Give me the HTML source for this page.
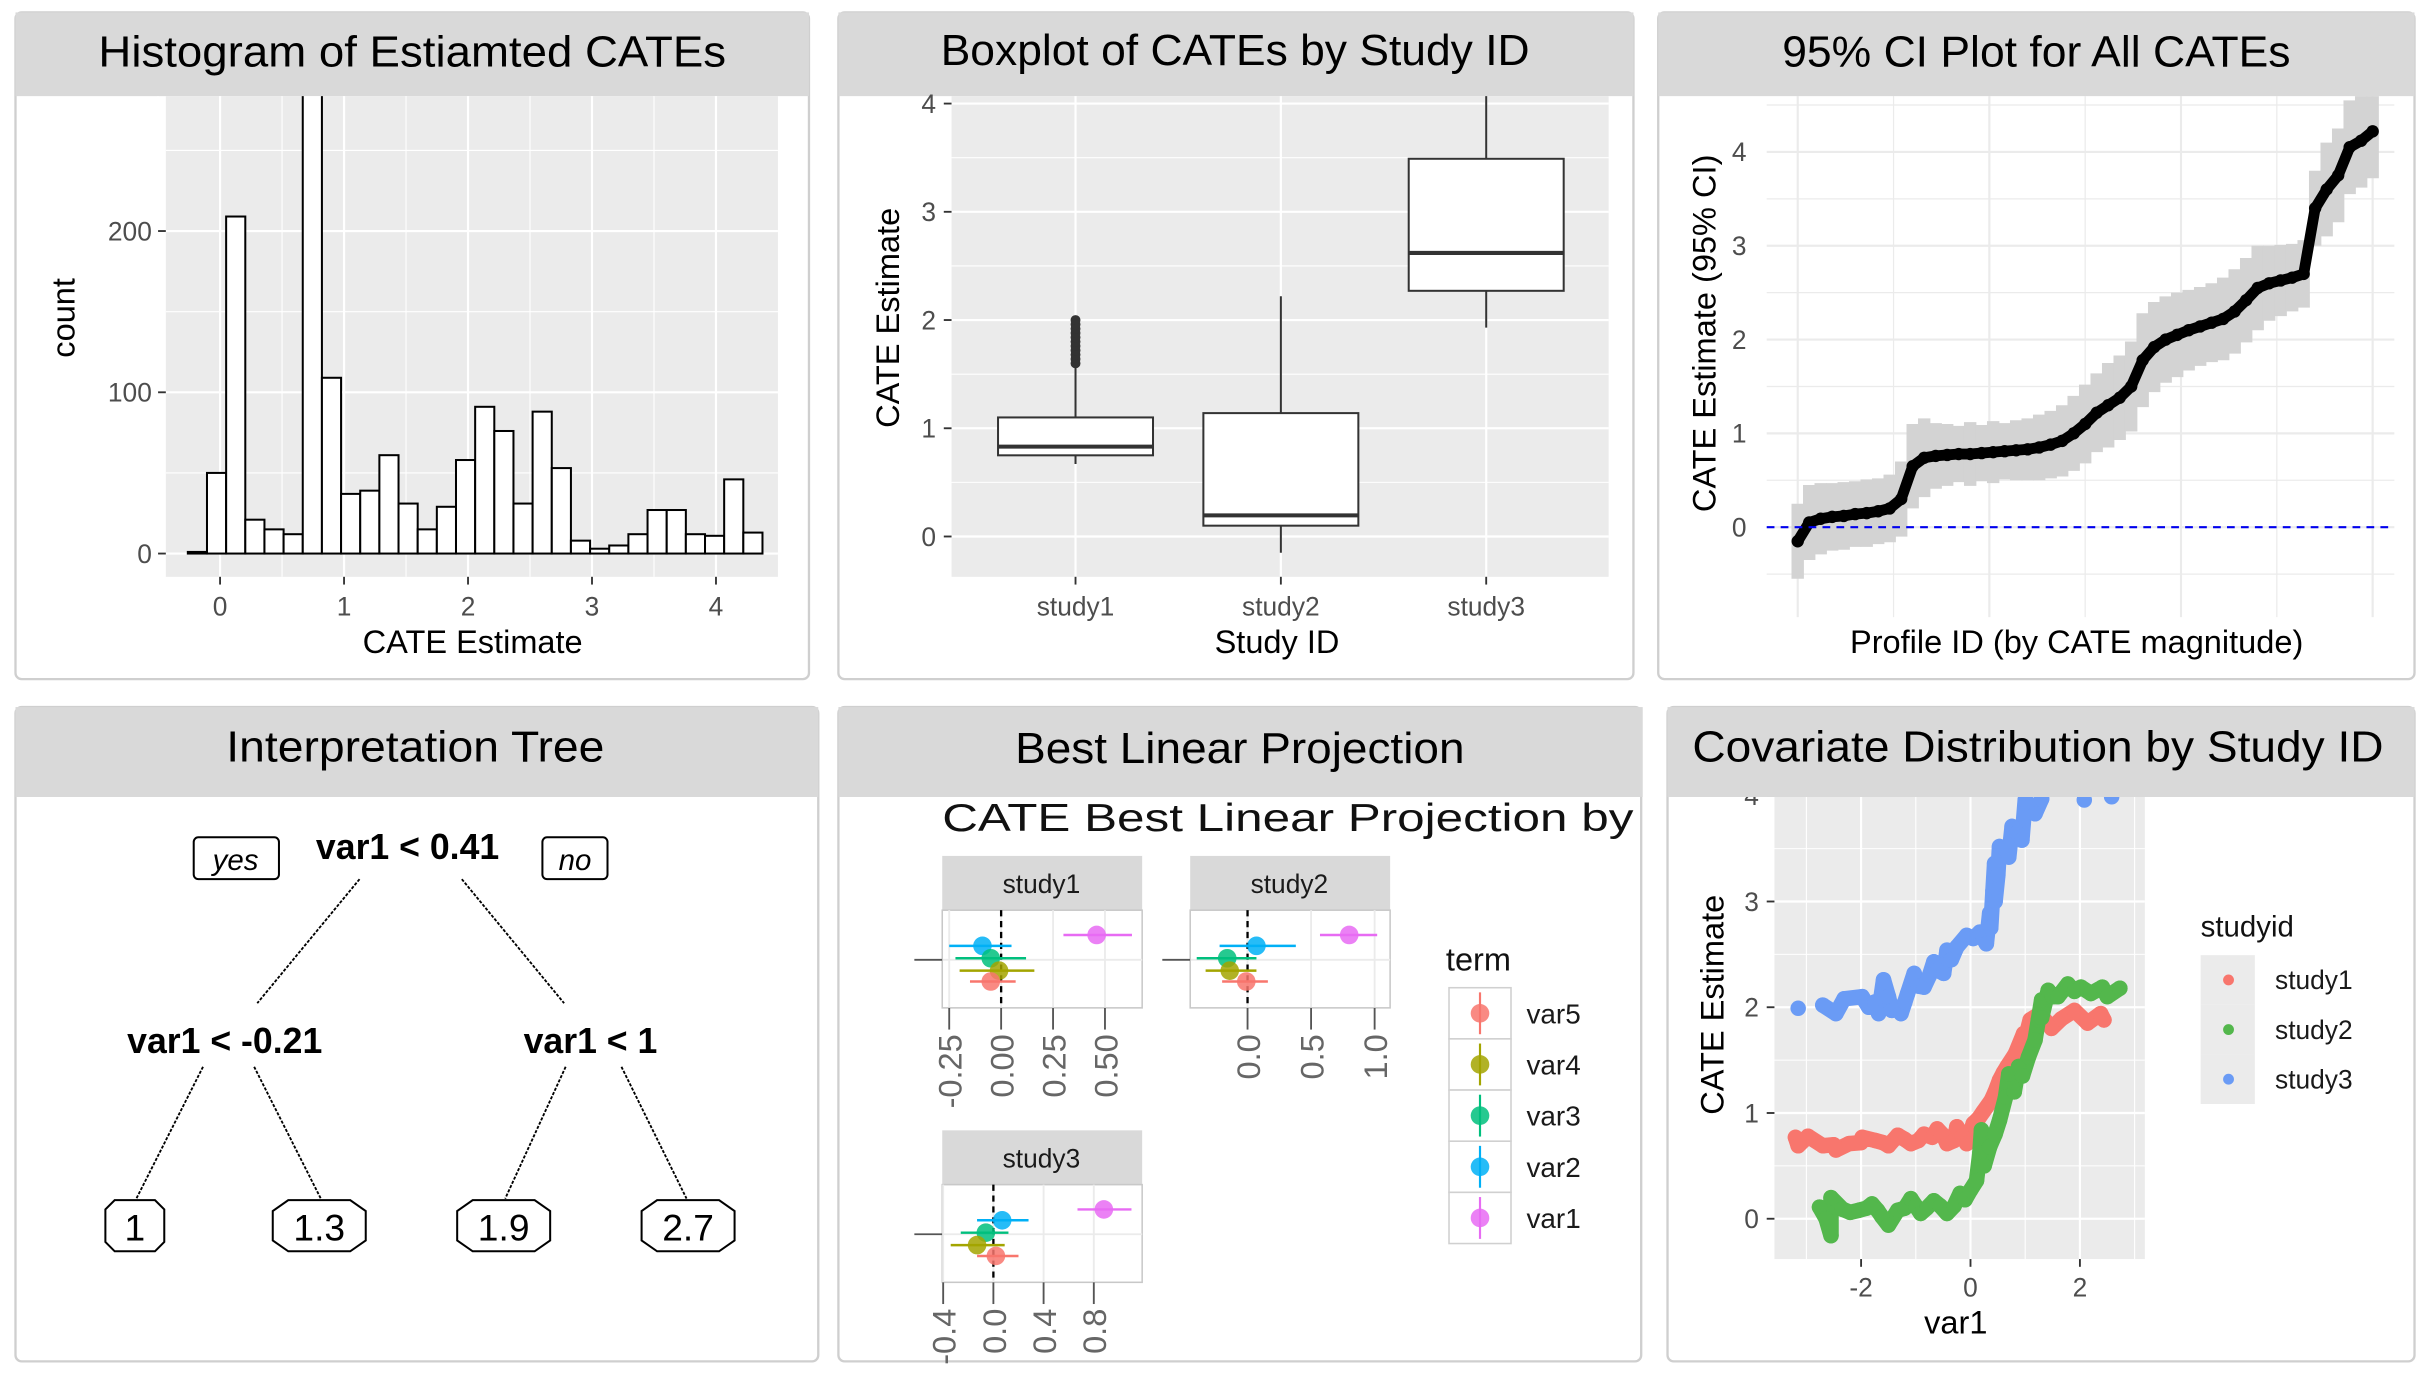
<!DOCTYPE html>
<html><head><meta charset="utf-8"><style>
html,body{margin:0;padding:0;background:#fff;}
svg{display:block;font-family:"Liberation Sans",Arial,sans-serif;}
.tl{font-size:17px;fill:#4d4d4d;}
.at{font-size:21px;fill:#000;}
.ttl{font-size:28px;fill:#000;}
</style></head><body>
<svg id="root" width="2430" height="1380" viewBox="0 0 1568 890" preserveAspectRatio="none" xmlns="http://www.w3.org/2000/svg">
<defs>
<clipPath id="c1"><rect x="107" y="62" width="395" height="310"/></clipPath>
<clipPath id="c2"><rect x="612" y="62" width="424" height="310"/></clipPath>
<clipPath id="c3"><rect x="1140" y="62" width="405" height="336"/></clipPath>
<clipPath id="c6"><rect x="1145" y="514" width="239" height="298"/></clipPath>
<clipPath id="c5"><rect x="541" y="514" width="518" height="364"/></clipPath>
</defs>
<rect width="1568" height="890" fill="#fff"/>
<g>
<rect x="10" y="8" width="512" height="430" rx="4" fill="#fff" stroke="#cfcfcf" stroke-width="1.5"/>
<rect x="10" y="8" width="512" height="54" fill="#d9d9d9"/>
<text x="266" y="43" text-anchor="middle" class="ttl" textLength="405" lengthAdjust="spacingAndGlyphs">Histogram of Estiamted CATEs</text>
<g id="g1"></g>
</g>
<g>
<rect x="541" y="8" width="513" height="430" rx="4" fill="#fff" stroke="#cfcfcf" stroke-width="1.5"/>
<rect x="541" y="8" width="513" height="54" fill="#d9d9d9"/>
<text x="797" y="42" text-anchor="middle" class="ttl" textLength="380" lengthAdjust="spacingAndGlyphs">Boxplot of CATEs by Study ID</text>
<g id="g2"></g>
</g>
<g>
<rect x="1070" y="8" width="488" height="430" rx="4" fill="#fff" stroke="#cfcfcf" stroke-width="1.5"/>
<g id="g3"></g>
<rect x="1070" y="8" width="488" height="54" fill="#d9d9d9"/>
<text x="1314" y="43" text-anchor="middle" class="ttl" textLength="328" lengthAdjust="spacingAndGlyphs">95% CI Plot for All CATEs</text>
</g>
<g>
<rect x="10" y="456" width="518" height="422" rx="4" fill="#fff" stroke="#cfcfcf" stroke-width="1.5"/>
<rect x="10" y="456" width="518" height="58" fill="#d9d9d9"/>
<text x="268" y="491" text-anchor="middle" class="ttl" textLength="244" lengthAdjust="spacingAndGlyphs">Interpretation Tree</text>
<g stroke="#000" stroke-width="1.2" stroke-dasharray="2 1">
<line x1="232" y1="567" x2="166" y2="647"/><line x1="298" y1="567" x2="364" y2="647"/>
<line x1="131" y1="688" x2="88" y2="773"/><line x1="164" y1="688" x2="207" y2="773"/>
<line x1="365" y1="688" x2="326" y2="773"/><line x1="401" y1="688" x2="443" y2="773"/>
</g>
<rect x="125" y="540" width="55" height="27" rx="3" fill="#fff" stroke="#000" stroke-width="1.3"/>
<text x="152" y="561" text-anchor="middle" font-size="19" font-style="italic">yes</text>
<rect x="350" y="540" width="42" height="27" rx="3" fill="#fff" stroke="#000" stroke-width="1.3"/>
<text x="371" y="561" text-anchor="middle" font-size="19" font-style="italic">no</text>
<text x="263" y="554" text-anchor="middle" font-size="23" font-weight="bold">var1 &lt; 0.41</text>
<text x="145" y="679" text-anchor="middle" font-size="23" font-weight="bold">var1 &lt; -0.21</text>
<text x="381" y="679" text-anchor="middle" font-size="23" font-weight="bold">var1 &lt; 1</text>
<g fill="#fff" stroke="#000" stroke-width="1.3">
<path d="M74 774 h26 l6 6 v21 l-6 6 h-26 l-6 -6 v-21 z"/>
<path d="M186 774 h40 l10 7 v19 l-10 7 h-40 l-10 -7 v-19 z"/>
<path d="M305 774 h40 l10 7 v19 l-10 7 h-40 l-10 -7 v-19 z"/>
<path d="M424 774 h40 l10 7 v19 l-10 7 h-40 l-10 -7 v-19 z"/>
</g>
<text x="87" y="800" text-anchor="middle" font-size="24">1</text>
<text x="206" y="800" text-anchor="middle" font-size="24">1.3</text>
<text x="325" y="800" text-anchor="middle" font-size="24">1.9</text>
<text x="444" y="800" text-anchor="middle" font-size="24">2.7</text>
</g>
<g>
<rect x="541" y="456" width="518" height="422" rx="4" fill="#fff" stroke="#cfcfcf" stroke-width="1.5"/>
<rect x="541" y="456" width="519" height="58" fill="#d9d9d9"/>
<text x="800" y="492" text-anchor="middle" class="ttl" textLength="290" lengthAdjust="spacingAndGlyphs">Best Linear Projection</text>
<g clip-path="url(#c5)">
<text x="608" y="536" font-size="25" fill="#111" textLength="446" lengthAdjust="spacingAndGlyphs">CATE Best Linear Projection by</text>
</g>
<g id="g5"></g>
</g>
<g>
<rect x="1076" y="456" width="482" height="422" rx="4" fill="#fff" stroke="#cfcfcf" stroke-width="1.5"/>
<g id="g6"></g>
<rect x="1076" y="456" width="482" height="58" fill="#d9d9d9"/>
<text x="1315" y="491" text-anchor="middle" class="ttl" textLength="446" lengthAdjust="spacingAndGlyphs">Covariate Distribution by Study ID</text>
</g>
</svg>
<script>
// ---------- data ----------
const histBinStart = -0.26;
const histBinWidth = 0.1545;
const histCounts = [1,50,209,21,15,12,320,109,37,39,61,31,15,29,58,91,76,31,88,53,8,3,5,12,27,27,12,11,46,13];
const histXTicks = [0,1,2,3,4];
const histYTicks = [0,100,200];

const boxStudies = ['study1','study2','study3'];
const boxLow = [0.67,-0.15,1.93];
const boxQ1 = [0.75,0.10,2.27];
const boxMed = [0.83,0.195,2.62];
const boxQ3 = [1.10,1.14,3.49];
const boxHigh = [1.57,2.22,4.25];
const boxOutliers1 = [1.6,1.64,1.68,1.72,1.76,1.8,1.84,1.88,1.92,1.96,2.0];
const boxYTicks = [0,1,2,3,4];

const ciEst = [-0.15,0.05,0.09,0.11,0.12,0.14,0.15,0.17,0.2,0.3,0.65,0.74,0.76,0.77,0.78,0.78,0.79,0.8,0.81,0.82,0.83,0.85,0.88,0.92,1.0,1.1,1.22,1.3,1.38,1.5,1.78,1.92,2.0,2.05,2.1,2.14,2.18,2.22,2.3,2.42,2.55,2.6,2.63,2.66,2.7,3.4,3.6,3.75,4.05,4.12,4.22];
const ciHalf = [0.4,0.4,0.38,0.36,0.36,0.35,0.36,0.35,0.36,0.4,0.45,0.42,0.35,0.33,0.3,0.34,0.3,0.33,0.3,0.32,0.33,0.35,0.36,0.38,0.4,0.42,0.42,0.45,0.45,0.48,0.5,0.48,0.46,0.45,0.43,0.42,0.42,0.44,0.45,0.45,0.45,0.4,0.38,0.36,0.36,0.4,0.5,0.5,0.5,0.5,0.5];
const ciYTicks = [0,1,2,3,4];

const blpTerms = ['var1','var2','var3','var4','var5'];
const blpColors = ['#E76BF3','#00B0F6','#00BF7D','#A3A500','#F8766D'];
const blpEst1 = [0.46,-0.09,-0.05,-0.01,-0.05];
const blpLo1 = [0.30,-0.25,-0.22,-0.20,-0.15];
const blpHi1 = [0.63,0.05,0.12,0.16,0.07];
const blpEst2 = [0.80,0.07,-0.16,-0.14,-0.01];
const blpLo2 = [0.57,-0.22,-0.40,-0.33,-0.20];
const blpHi2 = [1.02,0.38,0.07,0.07,0.16];
const blpEst3 = [0.88,0.07,-0.06,-0.13,0.02];
const blpLo3 = [0.67,-0.13,-0.26,-0.34,-0.13];
const blpHi3 = [1.10,0.28,0.12,0.09,0.20];
const blpTicks1 = ['-0.25','0.00','0.25','0.50'];
const blpTicks2 = ['0.0','0.5','1.0'];
const blpTicks3 = ['-0.4','0.0','0.4','0.8'];
const legendTerms = ['var5','var4','var3','var2','var1'];

const s1x = [-3.2,-3.15,-2.97,-2.7,-2.5,-2.46,-2.22,-2.0,-1.98,-1.74,-1.6,-1.5,-1.33,-1.2,-1.09,-0.95,-0.85,-0.7,-0.61,-0.5,-0.43,-0.3,-0.25,-0.15,-0.07,0.05,0.15,0.23,0.38,0.45,0.53,0.6,0.67,0.82,0.97,1.0,1.09,1.27,1.48,1.66,1.9,2.14,2.38,2.44];
const s1y = [0.77,0.69,0.78,0.69,0.7,0.65,0.71,0.72,0.77,0.74,0.72,0.69,0.79,0.75,0.71,0.74,0.8,0.77,0.85,0.79,0.71,0.74,0.87,0.78,0.71,0.9,0.95,1.01,1.12,1.2,1.31,1.38,1.44,1.56,1.75,1.7,1.88,1.94,1.8,1.89,1.97,1.85,1.94,1.88];
const s2x = [-2.76,-2.64,-2.55,-2.55,-2.34,-2.2,-2.04,-1.9,-1.8,-1.7,-1.62,-1.5,-1.33,-1.2,-1.09,-1.0,-0.91,-0.8,-0.67,-0.55,-0.43,-0.3,-0.19,-0.1,0.0,0.11,0.17,0.2,0.25,0.35,0.45,0.53,0.64,0.7,0.8,0.88,0.95,1.06,1.18,1.24,1.3,1.3,1.42,1.5,1.6,1.78,1.9,2.02,2.2,2.41,2.5,2.73];
const s2y = [0.11,0,-0.16,0.2,0.09,0.06,0.08,0.1,0.14,0.08,0.02,-0.06,0.08,0.1,0.19,0.12,0.05,0.1,0.17,0.12,0.05,0.12,0.24,0.18,0.27,0.36,0.62,0.84,0.5,0.68,0.8,0.93,1.15,1.37,1.2,1.44,1.35,1.53,1.69,1.88,2.07,1.9,2.16,2.1,2.1,2.22,2.15,2.19,2.13,2.19,2.1,2.18];
const s3x = [-3.15,-2.7,-2.46,-2.31,-1.98,-1.86,-1.75,-1.68,-1.59,-1.5,-1.44,-1.35,-1.27,-1.2,-1.15,-1.03,-0.95,-0.85,-0.75,-0.67,-0.6,-0.49,-0.43,-0.35,-0.25,-0.07,0.05,0.17,0.29,0.35,0.37,0.41,0.44,0.45,0.5,0.53,0.62,0.7,0.76,0.85,0.94,1.0,1.1,1.18,1.3,2.08,2.58];
const s3y = [1.99,2.02,1.94,2.08,2.1,2.0,2.05,1.94,2.26,2.1,1.97,2.0,1.94,2.05,2.13,2.32,2.2,2.19,2.3,2.43,2.35,2.32,2.54,2.45,2.57,2.68,2.65,2.71,2.6,2.89,2.75,3.1,3.36,3.0,3.25,3.52,3.5,3.42,3.71,3.65,3.58,3.96,3.9,3.83,3.97,3.96,3.99];
const covXTicks = [-2,0,2];
const covYTicks = [0,1,2,3,4];
const studyNames = ['study1','study2','study3'];
const studyColors = ['#F8766D','#53B74C','#6A9BF5'];

// ---------- helpers ----------
const NS = 'http://www.w3.org/2000/svg';
function mk(tag, attrs, parent){
  const e = document.createElementNS(NS, tag);
  for (const k in attrs) e.setAttribute(k, attrs[k]);
  parent.appendChild(e);
  return e;
}
function txt(str, attrs, parent){
  const e = mk('text', attrs, parent);
  e.textContent = str;
  return e;
}

// ---------- panel 1 histogram ----------
(function(){
  const g = document.getElementById('g1');
  const X = v => 142 + 80 * v;
  const Y = c => 357 - 1.04 * c;
  const bg = mk('rect', {x:107, y:62, width:395, height:310, fill:'#ebebeb'}, g);
  
  
  [-0.5,0.5,1.5,2.5,3.5].forEach(v => {
    const l = mk('line', {x1:X(v), x2:X(v), y1:62, y2:372, stroke:'#fff', 'stroke-width':0.7}, g);
    
    
  });
  [50,150,250].forEach(v => {
    const l = mk('line', {x1:107, x2:502, y1:Y(v), y2:Y(v), stroke:'#fff', 'stroke-width':0.7}, g);
    
    
  });
  histXTicks.forEach(v => {
    const l = mk('line', {x1:X(v), x2:X(v), y1:62, y2:372, stroke:'#fff', 'stroke-width':1.4}, g);
    
    
    const t = mk('line', {x1:X(v), x2:X(v), y1:372, y2:377, stroke:'#333', 'stroke-width':1.2}, g);
    
    
    const lb = txt(String(v), {x:X(v), y:397, 'text-anchor':'middle', class:'tl'}, g);
    
    
  });
  histYTicks.forEach(v => {
    const l = mk('line', {x1:107, x2:502, y1:Y(v), y2:Y(v), stroke:'#fff', 'stroke-width':1.4}, g);
    
    
    const t = mk('line', {x1:102, x2:107, y1:Y(v), y2:Y(v), stroke:'#333', 'stroke-width':1.2}, g);
    
    
    const lb = txt(String(v), {x:98, y:Y(v)+6, 'text-anchor':'end', class:'tl'}, g);
    
    
  });
  const bars = mk('g', {'clip-path':'url(#c1)'}, g);
  
  
  histCounts.forEach((c, i) => {
    const x0 = X(histBinStart + i * histBinWidth), x1 = X(histBinStart + (i + 1) * histBinWidth);
    const r = mk('rect', {x:x0, y:Y(c), width:x1 - x0, height:Y(0) - Y(c), fill:'#fff', stroke:'#000', 'stroke-width':1.3}, bars);
    
    
  });
  const xt = txt('CATE Estimate', {x:305, y:421, 'text-anchor':'middle', class:'at'}, g);
  
  
  const yt = txt('count', {x:0, y:0, 'text-anchor':'middle', class:'at', transform:'translate(48,205) rotate(-90)'}, g);
  
  
})();

// ---------- panel 2 boxplot ----------
(function(){
  const g = document.getElementById('g2');
  const Y = v => 346 - 69.8 * v;
  const X = i => 694 + 132.5 * i;
  const bg = mk('rect', {x:614, y:62, width:424, height:310, fill:'#ebebeb'}, g);
  
  
  [-0.5,0.5,1.5,2.5,3.5].forEach(v => {
    const l = mk('line', {x1:614, x2:1038, y1:Y(v), y2:Y(v), stroke:'#fff', 'stroke-width':0.7}, g);
    
    
  });
  boxYTicks.forEach(v => {
    const l = mk('line', {x1:614, x2:1038, y1:Y(v), y2:Y(v), stroke:'#fff', 'stroke-width':1.4}, g);
    
    
    const t = mk('line', {x1:609, x2:614, y1:Y(v), y2:Y(v), stroke:'#333', 'stroke-width':1.2}, g);
    
    
    const lb = txt(String(v), {x:604, y:Y(v)+6, 'text-anchor':'end', class:'tl'}, g);
    
    
  });
  const marks = mk('g', {'clip-path':'url(#c2)'}, g);
  
  
  boxStudies.forEach((s, i) => {
    const cx = X(i);
    const l = mk('line', {x1:cx, x2:cx, y1:62, y2:372, stroke:'#fff', 'stroke-width':1.4}, marks);
    
    
    const w = mk('line', {x1:cx, x2:cx, y1:Y(boxLow[i]), y2:Y(boxHigh[i]), stroke:'#333', 'stroke-width':1.3}, marks);
    
    
    const b = mk('rect', {x:cx-50, y:Y(boxQ3[i]), width:100, height:Y(boxQ1[i]) - Y(boxQ3[i]), fill:'#fff', stroke:'#333', 'stroke-width':1.3}, marks);
    
    
    const m = mk('line', {x1:cx-50, x2:cx+50, y1:Y(boxMed[i]), y2:Y(boxMed[i]), stroke:'#333', 'stroke-width':2.6}, marks);
    
    
    const t = mk('line', {x1:cx, x2:cx, y1:372, y2:377, stroke:'#333', 'stroke-width':1.2}, g);
    
    
    const lb = txt(s, {x:cx, y:397, 'text-anchor':'middle', class:'tl'}, g);
    
    
  });
  boxOutliers1.forEach(v => {
    const c = mk('circle', {cx:X(0), cy:Y(v), r:3.2, fill:'#333'}, marks);
    
    
  });
  const xt = txt('Study ID', {x:824, y:421, 'text-anchor':'middle', class:'at'}, g);
  
  
  const yt = txt('CATE Estimate', {x:0, y:0, 'text-anchor':'middle', class:'at', transform:'translate(580,205) rotate(-90)'}, g);
  
  
})();

// ---------- panel 3 CI plot ----------
(function(){
  const g = document.getElementById('g3');
  const n = ciEst.length - 1;
  const X = i => 1160 + 371 * i / n;
  const Y = v => 340 - 60.5 * v;
  for (let v = -0.5; v <= 4.6; v += 0.5) {
    const l = mk('line', {x1:1140, x2:1545, y1:Y(v), y2:Y(v), stroke:'#ebebeb', 'stroke-width': (Math.abs(v % 1) < 0.01 ? 1.4 : 0.8)}, g);
    
    
  }
  for (let k = 0; k <= 6; k++) {
    const x = 1160 + 371 * k / 6;
    const l = mk('line', {x1:x, x2:x, y1:62, y2:398, stroke:'#ebebeb', 'stroke-width': (k % 2 === 0 ? 1.4 : 0.8)}, g);
    
    
  }
  const marks = mk('g', {'clip-path':'url(#c3)'}, g);
  
  
  ciEst.forEach((v, i) => {
    const l = mk('line', {x1:X(i), x2:X(i), y1:Y(v + ciHalf[i]), y2:Y(v - ciHalf[i]), stroke:'#d3d3d3', 'stroke-width':8}, marks);
    
    
  });
  const zl = mk('line', {x1:1140, x2:1545, y1:Y(0), y2:Y(0), stroke:'#0000ee', 'stroke-width':1.3, 'stroke-dasharray':'5 4'}, g);
  
  
  const pl = mk('polyline', {points: ciEst.map((v, i) => X(i) + ',' + Y(v)).join(' '), fill:'none', stroke:'#000', 'stroke-width':7, 'stroke-linejoin':'round', 'stroke-linecap':'round'}, marks);
  
  
  ciEst.forEach((v, i) => {
    const c = mk('circle', {cx:X(i), cy:Y(v), r:4, fill:'#000'}, marks);
    
    
  });
  ciYTicks.forEach(v => {
    const lb = txt(String(v), {x:1127, y:Y(v)+6, 'text-anchor':'end', class:'tl'}, g);
    
    
  });
  const xt = txt('Profile ID (by CATE magnitude)', {x:1340, y:421, 'text-anchor':'middle', class:'at'}, g);
  
  
  const yt = txt('CATE Estimate (95% CI)', {x:0, y:0, 'text-anchor':'middle', class:'at', transform:'translate(1107,215) rotate(-90)'}, g);
  
  
})();

// ---------- panel 5 BLP facets ----------
(function(){
  const g = document.getElementById('g5');
  const dodge = [-16,-9,-1,7,14];
  const facets = [
    {name:'study1', x0:608, top:552, zero:646, k:134, ticks:blpTicks1, est:blpEst1, lo:blpLo1, hi:blpHi1},
    {name:'study2', x0:768, top:552, zero:805, k:82, ticks:blpTicks2, est:blpEst2, lo:blpLo2, hi:blpHi2},
    {name:'study3', x0:608, top:729, zero:641, k:81, ticks:blpTicks3, est:blpEst3, lo:blpLo3, hi:blpHi3}
  ];
  facets.forEach(f => {
    const X = v => f.zero + f.k * v;
    const pTop = f.top + 35, pBot = pTop + 63, cy = pTop + 32;
    const s = mk('rect', {x:f.x0, y:f.top, width:129, height:35, fill:'#d9d9d9'}, g);
    
    
    const st = txt(f.name, {x:f.x0 + 64, y:f.top + 24, 'text-anchor':'middle', 'font-size':17, fill:'#1a1a1a'}, g);
    
    
    const p = mk('rect', {x:f.x0, y:pTop, width:129, height:63, fill:'#fff', stroke:'#c8c8c8', 'stroke-width':1}, g);
    
    
    const hg = mk('line', {x1:f.x0, x2:f.x0 + 129, y1:cy, y2:cy, stroke:'#ebebeb', 'stroke-width':1.2}, g);
    
    
    const lt = mk('line', {x1:f.x0 - 18, x2:f.x0, y1:cy, y2:cy, stroke:'#555', 'stroke-width':1.2}, g);
    
    
    f.ticks.forEach(t => {
      const v = parseFloat(t);
      const vg = mk('line', {x1:X(v), x2:X(v), y1:pTop, y2:pBot, stroke:'#ebebeb', 'stroke-width':1.2}, g);
      
      
      const tk = mk('line', {x1:X(v), x2:X(v), y1:pBot, y2:pBot + 14, stroke:'#555', 'stroke-width':1.2}, g);
      
      
      const lb = txt(t, {x:0, y:0, 'text-anchor':'end', 'font-size':21, fill:'#666', transform:'translate(' + (X(v) + 8) + ',' + (pBot + 17) + ') rotate(-90)'}, g);
      
      
    });
    const zl = mk('line', {x1:X(0), x2:X(0), y1:pTop, y2:pBot, stroke:'#000', 'stroke-width':1.5, 'stroke-dasharray':'4 3'}, g);
    
    
    blpTerms.forEach((term, i) => {
      const y = cy + dodge[i];
      const el = mk('line', {x1:X(f.lo[i]), x2:X(f.hi[i]), y1:y, y2:y, stroke:blpColors[i], 'stroke-width':1.6}, g);
      
      
      const c = mk('circle', {cx:X(f.est[i]), cy:y, r:6, fill:blpColors[i], opacity:0.85}, g);
      
      
    });
  });
  const lt = txt('term', {x:933, y:626, 'font-size':21, fill:'#111'}, g);
  
  
  legendTerms.forEach((term, j) => {
    const y0 = 637 + j * 33;
    const col = blpColors[blpTerms.indexOf(term)];
    const r = mk('rect', {x:935, y:y0, width:40, height:33, fill:'#fff', stroke:'#d0d0d0', 'stroke-width':1}, g);
    
    
    const l = mk('line', {x1:955, x2:955, y1:y0 + 3, y2:y0 + 30, stroke:col, 'stroke-width':1.4}, g);
    
    
    const c = mk('circle', {cx:955, cy:y0 + 16.5, r:6, fill:col, opacity:0.85}, g);
    
    
    const t = txt(term, {x:985, y:y0 + 23, 'font-size':18, fill:'#1a1a1a'}, g);
    
    
  });
})();

// ---------- panel 6 scatter ----------
(function(){
  const g = document.getElementById('g6');
  const X = v => 1271.5 + 35.3 * v;
  const Y = v => 786 - 68.2 * v;
  const bg = mk('rect', {x:1145, y:514, width:239, height:298, fill:'#ebebeb'}, g);
  
  
  [-3,-1,1,3].forEach(v => {
    const l = mk('line', {x1:X(v), x2:X(v), y1:514, y2:812, stroke:'#fff', 'stroke-width':0.7}, g);
    
    
  });
  [0.5,1.5,2.5,3.5].forEach(v => {
    const l = mk('line', {x1:1145, x2:1384, y1:Y(v), y2:Y(v), stroke:'#fff', 'stroke-width':0.7}, g);
    
    
  });
  covXTicks.forEach(v => {
    const l = mk('line', {x1:X(v), x2:X(v), y1:514, y2:812, stroke:'#fff', 'stroke-width':1.4}, g);
    
    
    const t = mk('line', {x1:X(v), x2:X(v), y1:812, y2:817, stroke:'#333', 'stroke-width':1.2}, g);
    
    
    const lb = txt(String(v), {x:X(v), y:836, 'text-anchor':'middle', class:'tl'}, g);
    
    
  });
  covYTicks.forEach(v => {
    const l = mk('line', {x1:1145, x2:1384, y1:Y(v), y2:Y(v), stroke:'#fff', 'stroke-width':1.4}, g);
    
    
    const t = mk('line', {x1:1140, x2:1145, y1:Y(v), y2:Y(v), stroke:'#333', 'stroke-width':1.2}, g);
    
    
    const lb = txt(String(v), {x:1135, y:Y(v)+6, 'text-anchor':'end', class:'tl'}, g);
    
    
  });
  const pts = mk('g', {'clip-path':'url(#c6)'}, g);
  
  
  const series = [[s1x, s1y], [s2x, s2y], [s3x, s3y]];
  series.forEach((sr, si) => {
    const xs = sr[0], ys = sr[1];
    // band segments only between close neighbours
    let seg = [];
    const flush = () => {
      if (seg.length > 1) {
        const pl = mk('polyline', {points: seg.join(' '), fill:'none', stroke:studyColors[si], 'stroke-width':10, 'stroke-linejoin':'round', 'stroke-linecap':'round'}, pts);
        
        
      }
      seg = [];
    };
    xs.forEach((x, i) => {
      if (i > 0 && x - xs[i-1] > 0.4) flush();
      seg.push(X(x) + ',' + Y(ys[i]));
    });
    flush();
    xs.forEach((x, i) => {
      const c = mk('circle', {cx:X(x), cy:Y(ys[i]), r:5, fill:studyColors[si]}, pts);
      
      
    });
  });
  const xt = txt('var1', {x:1262, y:860, 'text-anchor':'middle', class:'at'}, g);
  
  
  const yt = txt('CATE Estimate', {x:0, y:0, 'text-anchor':'middle', class:'at', transform:'translate(1112,648) rotate(-90)'}, g);
  
  
  const lt = txt('studyid', {x:1420, y:604, 'font-size':19, fill:'#111'}, g);
  
  
  studyNames.forEach((s, i) => {
    const y0 = 616 + i * 32;
    const r = mk('rect', {x:1420, y:y0, width:35, height:32, fill:'#ebebeb'}, g);
    
    
    const c = mk('circle', {cx:1438, cy:y0 + 16, r:3.5, fill:studyColors[i]}, g);
    
    
    const t = txt(s, {x:1468, y:y0 + 22, 'font-size':17, fill:'#1a1a1a'}, g);
    
    
  });
})();
</script>
</body></html>
